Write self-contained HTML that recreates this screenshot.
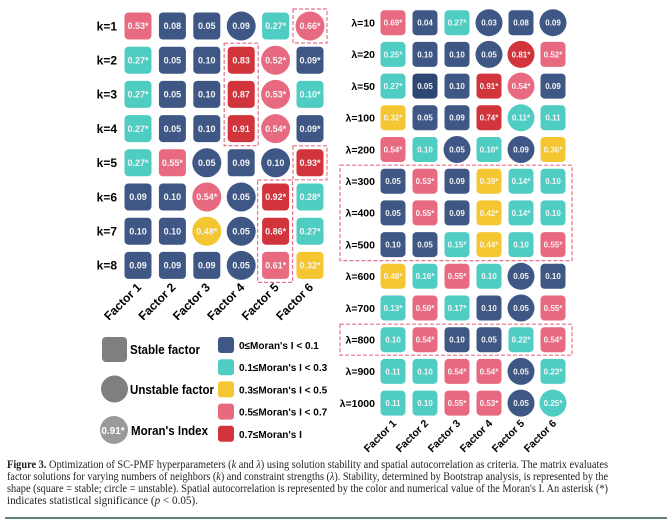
<!DOCTYPE html>
<html><head><meta charset="utf-8"><style>
html,body{margin:0;padding:0;background:#fff;}
svg{display:block;font-family:"Liberation Sans",sans-serif;}
</style></head><body>
<svg id="fig" width="672" height="520" viewBox="0 0 672 520">
<g id="left"></g>
<g id="right"></g>
<g id="legend">
  <rect x="102" y="337" width="25" height="25" rx="4" fill="#7f7f7f"/>
  <text x="130" y="354" font-size="12.5" font-weight="bold" textLength="70" lengthAdjust="spacingAndGlyphs">Stable factor</text>
  <circle cx="114.5" cy="389" r="13.5" fill="#7f7f7f"/>
  <text x="130" y="394" font-size="12.5" font-weight="bold" textLength="84" lengthAdjust="spacingAndGlyphs">Unstable factor</text>
  <circle cx="114" cy="430" r="14" fill="#9a9a9a"/>
  <text x="113" y="434" font-size="10" font-weight="bold" fill="#fff" text-anchor="middle">0.91*</text>
  <text x="131" y="435" font-size="12.5" font-weight="bold" textLength="77" lengthAdjust="spacingAndGlyphs">Moran's Index</text>
</g>
<g id="caption" font-family="'Liberation Serif',serif" font-size="11.5" fill="#222">
  <text x="7" y="468" textLength="601" lengthAdjust="spacingAndGlyphs"><tspan font-weight="bold">Figure 3.</tspan> Optimization of SC-PMF hyperparameters (<tspan font-style="italic">k</tspan> and <tspan font-style="italic">λ</tspan>) using solution stability and spatial autocorrelation as criteria. The matrix evaluates</text>
  <text x="7" y="480" textLength="601" lengthAdjust="spacingAndGlyphs">factor solutions for varying numbers of neighbors (<tspan font-style="italic">k</tspan>) and constraint strengths (<tspan font-style="italic">λ</tspan>). Stability, determined by Bootstrap analysis, is represented by the</text>
  <text x="7" y="492" textLength="601" lengthAdjust="spacingAndGlyphs">shape (square = stable; circle = unstable). Spatial autocorrelation is represented by the color and numerical value of the Moran's I. An asterisk (*)</text>
  <text x="7" y="504" textLength="191" lengthAdjust="spacingAndGlyphs">indicates statistical significance (<tspan font-style="italic">p</tspan> &lt; 0.05).</text>
</g>
<line x1="5" y1="518" x2="667" y2="518" stroke="#2f5a45" stroke-width="1.5"/>
</svg>
<script>
const factors = ["Factor 1","Factor 2","Factor 3","Factor 4","Factor 5","Factor 6"];
const kLabels = ["k=1","k=2","k=3","k=4","k=5","k=6","k=7","k=8"];
const kValues = [
 [0.53,0.08,0.05,0.09,0.27,0.66],
 [0.27,0.05,0.10,0.83,0.52,0.09],
 [0.27,0.05,0.10,0.87,0.53,0.10],
 [0.27,0.05,0.10,0.91,0.54,0.09],
 [0.27,0.55,0.05,0.09,0.10,0.93],
 [0.09,0.10,0.54,0.05,0.92,0.28],
 [0.10,0.10,0.48,0.05,0.86,0.27],
 [0.09,0.09,0.09,0.05,0.61,0.32]];
const kSig = ["100011","100011","100011","100011","110001","001011","001011","000011"];
const kColor = ["pnnntp","tnnrpn","tnnrpt","tnnrpn","tpnnnr","nnpnrt","nnynrt","nnnnpy"];
const kStable = ["111010","111101","111101","111101","110101","110011","110011","111011"];
const lamLabels = ["λ=10","λ=20","λ=50","λ=100","λ=200","λ=300","λ=400","λ=500","λ=600","λ=700","λ=800","λ=900","λ=1000"];
const lamValues = [
 [0.69,0.04,0.27,0.03,0.08,0.09],
 [0.25,0.10,0.10,0.05,0.81,0.52],
 [0.27,0.05,0.10,0.91,0.54,0.09],
 [0.32,0.05,0.09,0.74,0.11,0.11],
 [0.54,0.10,0.05,0.10,0.09,0.36],
 [0.05,0.53,0.09,0.39,0.14,0.10],
 [0.05,0.55,0.09,0.42,0.14,0.10],
 [0.10,0.05,0.15,0.44,0.10,0.55],
 [0.48,0.16,0.55,0.10,0.05,0.10],
 [0.13,0.50,0.17,0.10,0.05,0.55],
 [0.10,0.54,0.10,0.05,0.22,0.54],
 [0.11,0.10,0.54,0.54,0.05,0.23],
 [0.11,0.10,0.55,0.53,0.05,0.25]];
const lamSig = ["101000","100011","100110","100110","100101","010110","010110","001101","111000","111001","010011","001101","001101"];
const lamColor = ["pntnnn","tnnnrp","tNnrpn","ynnrtt","ptntny","npnytt","npnytt","nntytp","ytptnn","tptnnp","tpnntp","ttppnt","ttppnt"];
const lamStable = ["111010","111001","111101","111101","110101","111111","111111","111111","111101","111101","111111","111101","111100"];
const colorMap = {n:"#3f5785",N:"#2e4672",t:"#4fcdc3",y:"#f4c631",p:"#e76a80",r:"#d1343a"};
const legendRanges = ["0≤Moran's I < 0.1","0.1≤Moran's I < 0.3","0.3≤Moran's I < 0.5","0.5≤Moran's I < 0.7","0.7≤Moran's I"];
const legendColors = ["n","t","y","p","r"];
const NS="http://www.w3.org/2000/svg";
function mk(tag,attrs,parent){const e=document.createElementNS(NS,tag);for(const k in attrs)e.setAttribute(k,attrs[k]);parent.appendChild(e);return e;}

function drawMatrix(g,labels,vals,sig,col,stab,x0,dx,y0,dy,size,fs,labelX,labelFs,facTop){
  const xs=i=>x0+i*dx, ys=j=>y0+j*dy;
  labels.forEach((lab,j)=>{
    const t=mk("text",{x:labelX,y:ys(j)+labelFs*0.36,"text-anchor":"end","font-size":labelFs,"font-weight":"bold"},g);
    t.textContent=lab;
    
    
    vals[j].forEach((v,i)=>{
      const c=colorMap[col[j][i]];
      let m;
      if(stab[j][i]==="1"){m=mk("rect",{x:xs(i)-size/2,y:ys(j)-size/2,width:size,height:size,rx:4,fill:c},g);}
      else{m=mk("circle",{cx:xs(i),cy:ys(j),r:size/2+1,fill:c},g);}
      
      
      const tt=mk("text",{x:xs(i),y:ys(j)+fs*0.36,"text-anchor":"middle","font-size":fs,"font-weight":"bold",fill:"#f4f4f4"},g);
      tt.textContent=v.toFixed(2)+(sig[j][i]==="1"?"*":"");
      
      
    });
  });
  factors.forEach((f,i)=>{
    const t=mk("text",{x:xs(i)+4,y:facTop,"text-anchor":"end","font-size":labelFs,"font-weight":"bold",transform:`rotate(-45 ${xs(i)+4} ${facTop})`},g);
    t.textContent=f;
    
    
  });
  return {xs,ys};
}
function box(g,x1,y1,x2,y2){
  const r=mk("rect",{x:x1,y:y1,width:x2-x1,height:y2-y1,fill:"none",stroke:"#e8728a","stroke-width":1.2,"stroke-dasharray":"4 2"},g);
  
  
}
const L=document.getElementById("left"), R=document.getElementById("right");
const a=drawMatrix(L,kLabels,kValues,kSig,kColor,kStable,138,34.4,26,34.2,27,9,117,12,288);
box(L,a.xs(5)-17,a.ys(0)-17,a.xs(5)+17,a.ys(0)+17);
box(L,a.xs(3)-17,a.ys(1)-17,a.xs(3)+17,a.ys(3)+17);
box(L,a.xs(5)-17,a.ys(4)-17,a.xs(5)+17,a.ys(4)+17);
box(L,a.xs(4)-18,a.ys(5)-17,a.xs(4)+17,a.ys(7)+17);
const b=drawMatrix(R,lamLabels,lamValues,lamSig,lamColor,lamStable,393,32,22.7,31.7,25,8,375,10.5,424);
box(R,340,b.ys(5)-16,572,b.ys(7)+16);
box(R,340,b.ys(10)-15.5,572,b.ys(10)+15.5);
const LG=document.getElementById("legend");
legendRanges.forEach((lab,i)=>{
  const y=345+i*22.2;
  const s=mk("rect",{x:218,y:y-8,width:16,height:16,rx:3,fill:colorMap[legendColors[i]]},LG);
  
  
  const t=mk("text",{x:239,y:y+4,"font-size":10,"font-weight":"bold"},LG);
  t.textContent=lab;
  
  
});
</script>
</body></html>
